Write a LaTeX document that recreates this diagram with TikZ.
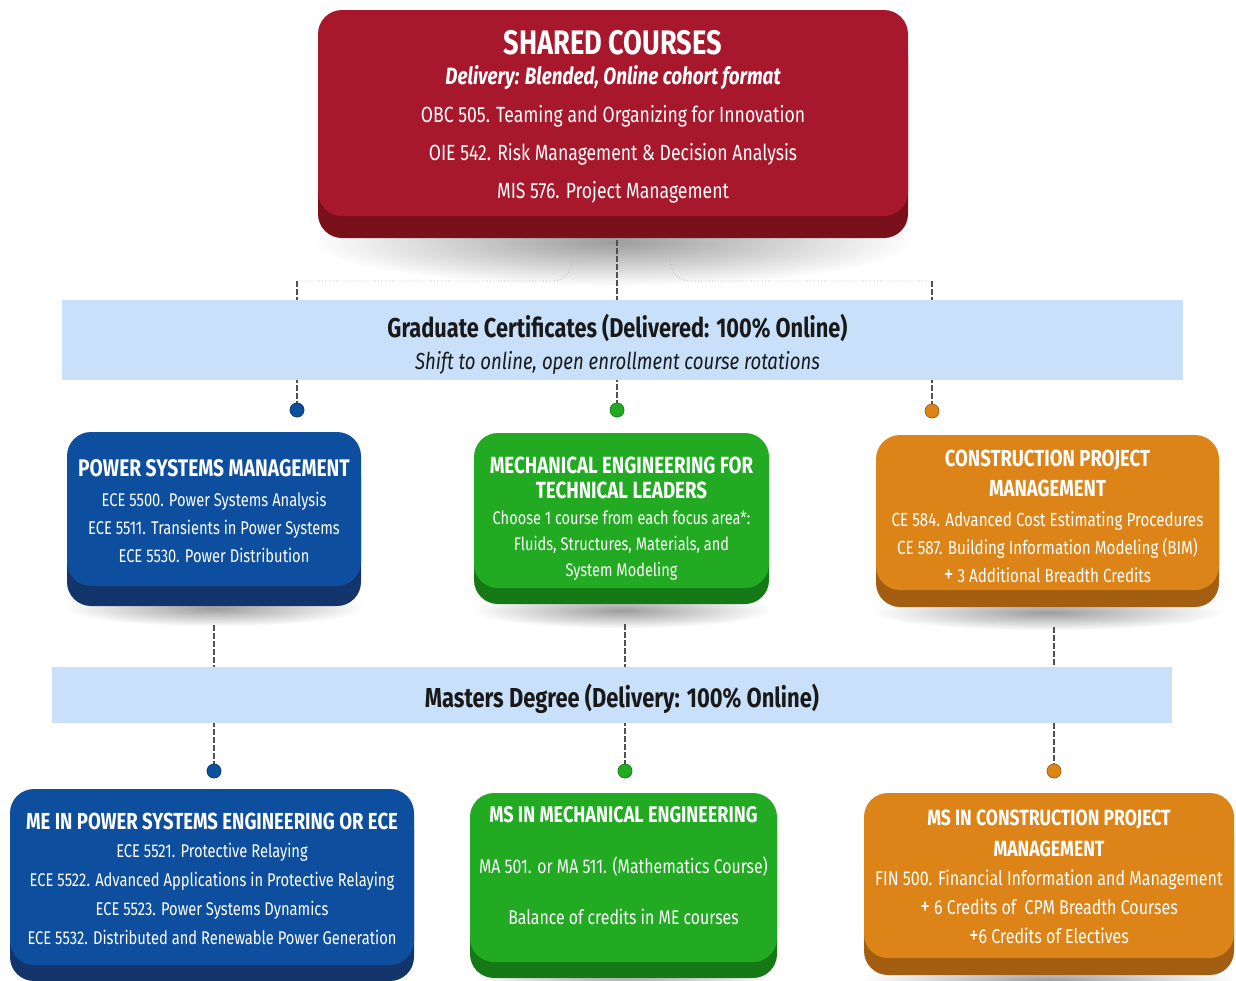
\documentclass[tikz,border=0pt]{standalone}
\usepackage{fontspec}
\setmainfont{Fira Sans}[FakeStretch=0.8]
\usetikzlibrary{positioning, calc, backgrounds, fadings}

\definecolor{sharedred}{HTML}{A8182C}
\definecolor{sharedredd}{HTML}{7A1019}
\definecolor{psblue}{HTML}{0D4E9E}
\definecolor{psblued}{HTML}{14346C}
\definecolor{megreen}{HTML}{22AA22}
\definecolor{megreend}{HTML}{157A15}
\definecolor{cpmorange}{HTML}{DD8419}
\definecolor{cpmoranged}{HTML}{A35E12}
\definecolor{bandblue}{HTML}{C8E0FA}
\definecolor{linkgray}{HTML}{505050}

\tikzfading[name=softshadow, inner color=transparent!45, outer color=transparent!100]

\begin{document}
\begin{tikzpicture}[x=0.5pt, y=-0.5pt]
	\tikzset{
		plate/.style n args={3}{rounded corners=12pt, fill=#1, inner sep=0pt,
			preaction={fill=#2, transform canvas={yshift=-#3}}},
		dot/.style={circle, minimum size=7pt, inner sep=0pt, draw=#1!75!black, fill=#1},
	}
	\tikzstyle{platetext} = [align=center, text=white, inner sep=0pt]
	\tikzstyle{band} = [fill=bandblue, inner sep=0pt]
	\tikzstyle{bandtext} = [align=center, text=black!90, inner sep=0pt]
	\tikzstyle{link} = [linkgray, semithick, dash pattern=on 3pt off 1pt]
	\tikzstyle{guide} = [black!30, thin, densely dotted, rounded corners=10pt]
	\tikzstyle{shade} = [black!70, path fading=softshadow]
	\newcommand{\headfont}[1]{\bfseries\fontsize{#1}{#1}\selectfont}
	\newcommand{\plus}{{\fontsize{12}{12}\selectfont +}}

	\useasboundingbox (0,0) rectangle (1236,980);

	% shared courses
	\node[plate={sharedred}{sharedredd}{11pt}, minimum width=295pt, minimum height=103pt] (shared) at (613,113) {};
	\node[platetext, font=\fontsize{11}{19}\selectfont] (sharedtext) at ($(shared)+(0,4)$)
		{{\headfont{17}SHARED COURSES}\\[-4pt]
		 {\headfont{11.8}\itshape Delivery: Blended, Online cohort format}\\
		 OBC 505. Teaming and Organizing for Innovation\\
		 OIE 542. Risk Management \& Decision Analysis\\
		 MIS 576. Project Management};

	% bands
	\node[band, minimum width=560.5pt, minimum height=40pt] (grad) at (622.5,340) {};
	\node[bandtext, font=\fontsize{11.6}{16}\selectfont] (gradtext) at ($(grad)+(-5,4.5)$)
		{{\headfont{13.6}Graduate Certificates (Delivered: 100\% Online)}\\
		 {\itshape Shift to online, open enrollment course rotations}};
	\node[band, minimum width=560pt, minimum height=28pt] (masters) at (612,695) {};
	\node[bandtext, font=\headfont{13.7}] (masterstext) at ($(masters)+(10,4)$)
		{Masters Degree (Delivery: 100\% Online)};

	% certificates
	\node[plate={psblue}{psblued}{10pt}, minimum width=147pt, minimum height=77pt] (psm) at (214,509) {};
	\node[platetext, font=\fontsize{9.2}{14}\selectfont] (psmtext) at ($(psm)+(0,2.5)$)
		{{\headfont{12}POWER SYSTEMS MANAGEMENT}\\[1pt]
		 ECE 5500. Power Systems Analysis\\
		 ECE 5511. Transients in Power Systems\\
		 ECE 5530. Power Distribution};

	\node[plate={megreen}{megreend}{8pt}, minimum width=147.5pt, minimum height=77.5pt] (me) at (621.5,510.5) {};
	\node[platetext, font=\fontsize{9.1}{13}\selectfont] (metext) at ($(me)+(0,8)$)
		{{\headfont{11.7}MECHANICAL ENGINEERING FOR}\\[-0.5pt]
		 {\headfont{11.7}TECHNICAL LEADERS}\\[0pt]
		 Choose 1 course from each focus area*:\\
		 Fluids, Structures, Materials, and\\
		 System Modeling};

	\node[plate={cpmorange}{cpmoranged}{8.5pt}, minimum width=171.5pt, minimum height=77.5pt] (cpm) at (1047.5,512.5) {};
	\node[platetext, font=\fontsize{9.5}{14}\selectfont] (cpmtext) at ($(cpm)+(0,4)$)
		{{\headfont{11.6}CONSTRUCTION PROJECT}\\[1pt]
		 {\headfont{11.6}MANAGEMENT}\\[1pt]
		 CE 584. Advanced Cost Estimating Procedures\\
		 CE 587. Building Information Modeling (BIM)\\
		 \plus\ 3 Additional Breadth Credits};

	% masters
	\node[plate={psblue}{psblued}{8pt}, minimum width=202pt, minimum height=88pt] (msps) at (212,877) {};
	\node[platetext, font=\fontsize{9.2}{14.4}\selectfont] (mspstext) at ($(msps)+(0,1.5)$)
		{{\headfont{11.6}ME IN POWER SYSTEMS ENGINEERING OR ECE}\\
		 ECE 5521. Protective Relaying\\
		 ECE 5522. Advanced Applications in Protective Relaying\\
		 ECE 5523. Power Systems Dynamics\\
		 ECE 5532. Distributed and Renewable Power Generation};

	\node[plate={megreen}{megreend}{8pt}, minimum width=153.5pt, minimum height=84.5pt] (msme) at (623.5,877.5) {};
	\node[platetext, font=\fontsize{9.9}{14.5}\selectfont] (msmetext) at ($(msme)+(0,-12)$)
		{{\headfont{11.3}MS IN MECHANICAL ENGINEERING}\\[11pt]
		 MA 501. or MA 511. (Mathematics Course)\\[11pt]
		 Balance of credits in ME courses};

	\node[plate={cpmorange}{cpmoranged}{8.5pt}, minimum width=185pt, minimum height=82.5pt] (mscpm) at (1049,875.5) {};
	\node[platetext, font=\fontsize{10}{14.5}\selectfont] (mscpmtext) at ($(mscpm)+(0,1)$)
		{{\headfont{11}MS IN CONSTRUCTION PROJECT}\\[1pt]
		 {\headfont{11}MANAGEMENT}\\
		 FIN 500. Financial Information and Management\\
		 \plus\ 6 Credits of\ \ CPM Breadth Courses\\
		 \plus6 Credits of Electives};

	% dots
	\node[dot=psblue] (psmdot) at (297,410) {};
	\node[dot=megreen] (medot) at (617,410) {};
	\node[dot=cpmorange] (cpmdot) at (932,411) {};
	\node[dot=psblue] (mspsdot) at (214,771) {};
	\node[dot=megreen] (msmedot) at (625,771) {};
	\node[dot=cpmorange] (mscpmdot) at (1054,771) {};

	\coordinate (lbend) at (297,281);
	\coordinate (rbend) at (932,281);

	\begin{scope}[on background layer]
		\fill[shade] (613,242) ellipse (150pt and 22pt);
		\foreach \b/\w in {psm/75, me/75, cpm/88, msps/103, msme/78, mscpm/94}
			\fill[shade] ($(\b.south)+(0,22)$) ellipse ({\w pt} and 9pt);

		\draw[guide] ($(shared.south)+(-41,0)$) |- (lbend);
		\draw[guide] ($(shared.south)+(57,0)$) |- (rbend);
		\draw[link] (lbend) -- (psmdot);
		\draw[link] (shared.south -| medot) -- (medot);
		\draw[link] (rbend) -- (cpmdot);

		\draw[link] ($(psm.south -| mspsdot)+(0,39)$) -- (mspsdot);
		\draw[link] ($(me.south -| msmedot)+(0,36)$) -- (msmedot);
		\draw[link] ($(cpm.south -| mscpmdot)+(0,37)$) -- (mscpmdot);
	\end{scope}
\end{tikzpicture}
\end{document}
